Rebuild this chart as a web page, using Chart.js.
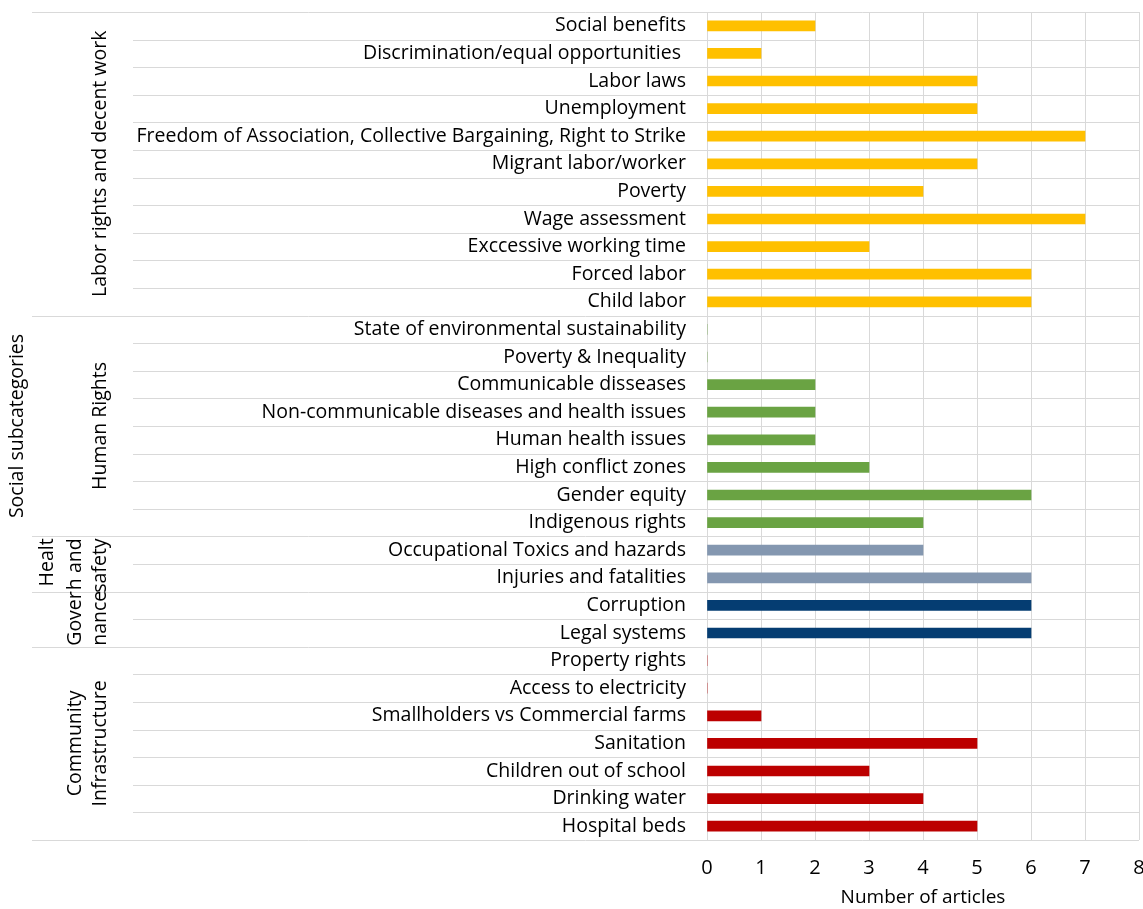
<!DOCTYPE html>
<html>
<head>
<meta charset="utf-8">
<script src="https://cdn.jsdelivr.net/npm/chart.js@4.4.0/dist/chart.umd.min.js"></script>
<style>
  html, body { margin: 0; padding: 0; background: #fff; }
  #wrap { width: 1143px; height: 909px; }
</style>
</head>
<body>
<div id="wrap"><canvas id="subcatChart" width="1143" height="909"></canvas></div>
<script>
// Categorias (de arriba hacia abajo) y numero de articulos
const categories = [
    'Social benefits', 'Discrimination/equal opportunities ', 'Labor laws', 'Unemployment',
    'Freedom of Association, Collective Bargaining, Right to Strike', 'Migrant labor/worker',
    'Poverty', 'Wage assessment', 'Exccessive working time', 'Forced labor', 'Child labor',
    'State of environmental sustainability', 'Poverty & Inequality', 'Communicable disseases',
    'Non-communicable diseases and health issues', 'Human health issues', 'High conflict zones',
    'Gender equity', 'Indigenous rights',
    'Occupational Toxics and hazards', 'Injuries and fatalities',
    'Corruption', 'Legal systems',
    'Property rights', 'Access to electricity', 'Smallholders vs Commercial farms', 'Sanitation',
    'Children out of school', 'Drinking water', 'Hospital beds'
];
const articles = [
    2, 1, 5, 5, 7, 5, 4, 7, 3, 6, 6,
    0, 0, 2, 2, 2, 3, 6, 4,
    4, 6,
    6, 6,
    0, 0, 1, 5, 3, 4, 5
];

// Grupos: cuantas categorias tiene cada uno y su color
const groupSizes = [11, 8, 2, 2, 7];
const groupColors = ['#FFC000', '#6AA343', '#8497B0', '#053D72', '#BC0000'];
// Etiquetas de grupo (cada linea rotada: texto, x, alineacion)
const groupLabels = [
    [['Labor rights and decent work', 100, 'center']],
    [['Human Rights', 100, 'center']],
    [['Healt', 47, 'right'], ['h and', 75, 'right'], ['safety', 100, 'right']],
    [['Gover', 75, 'left'], ['nance', 100, 'left']],
    [['Community', 75, 'center'], ['Infrastructure', 100, 'center']]
];
const xTicks = [0, 1, 2, 3, 4, 5, 6, 7, 8];

const FONT = '"Open Sans", sans-serif';
const GRID = '#d9d9d9';

const barColors = [];
groupSizes.forEach((n, g) => { for (let i = 0; i < n; i++) barColors.push(groupColors[g]); });

// Lineas horizontales que atraviesan la zona de etiquetas + titulos de grupo
const groupPlugin = {
    id: 'groupLines',
    beforeDatasetsDraw(chart) {
        const ctx = chart.ctx;
        const y = chart.scales.y;
        const right = chart.chartArea.right;
        const edges = [0];
        groupSizes.forEach(n => edges.push(edges[edges.length - 1] + n));
        ctx.save();
        ctx.strokeStyle = GRID;
        ctx.lineWidth = 1;
        for (let i = 0; i <= categories.length; i++) {
            const py = Math.round(y.getPixelForValue(i - 0.5)) + 0.5;
            const left = edges.includes(i) ? 32 : 133;
            ctx.beginPath();
            ctx.moveTo(left, py);
            ctx.lineTo(right, py);
            ctx.stroke();
        }
        ctx.restore();
    },
    afterDraw(chart) {
        const ctx = chart.ctx;
        const y = chart.scales.y;
        ctx.save();
        ctx.fillStyle = '#000';
        ctx.font = '19.5px ' + FONT;
        ctx.textBaseline = 'middle';
        let start = 0;
        groupSizes.forEach((n, g) => {
            const top = y.getPixelForValue(start - 0.5);
            const bottom = y.getPixelForValue(start + n - 0.5);
            groupLabels[g].forEach(([text, x, align]) => {
                ctx.save();
                let ty = (top + bottom) / 2;
                if (align === 'right') ty = top + 2;
                if (align === 'left') ty = bottom - 1;
                ctx.translate(x, ty);
                ctx.rotate(-Math.PI / 2);
                ctx.textAlign = align;
                ctx.fillText(text, 0, 0);
                ctx.restore();
            });
            start += n;
        });
        // titulo general del eje
        ctx.translate(17, (chart.chartArea.top + chart.chartArea.bottom) / 2);
        ctx.rotate(-Math.PI / 2);
        ctx.textAlign = 'center';
        ctx.fillText('Social subcategories', 0, 0);
        ctx.restore();
    }
};

new Chart(document.getElementById('subcatChart'), {
    type: 'bar',
    data: {
        labels: categories,
        datasets: [{
            data: articles,
            backgroundColor: barColors,
            barThickness: 10
        }]
    },
    options: {
        indexAxis: 'y',
        responsive: false,
        animation: false,
        layout: { padding: { top: 12, right: 4, left: 0, bottom: 0 } },
        plugins: { legend: { display: false }, tooltip: { enabled: false } },
        scales: {
            x: {
                min: 0,
                max: 8,
                afterBuildTicks: (scale) => { scale.ticks = xTicks.map(v => ({ value: v })); },
                afterFit: (scale) => {
                    scale.height = 69;
                    scale.paddingLeft = 0;
                    scale.paddingRight = 0;
                },
                grid: { color: GRID, drawTicks: false },
                border: { display: false },
                ticks: { color: '#000', padding: 16, font: { family: FONT, size: 20 } },
                title: {
                    display: true,
                    text: 'Number of articles',
                    color: '#000',
                    padding: { top: 2, bottom: 0 },
                    font: { family: FONT, size: 19 }
                }
            },
            y: {
                afterFit: (scale) => {
                    scale.width = 707;
                    scale.paddingTop = 0;
                    scale.paddingBottom = 0;
                },
                grid: { display: false, drawTicks: false },
                border: { display: false },
                ticks: { color: '#000', padding: 21, autoSkip: false, font: { family: FONT, size: 19.5 } }
            }
        }
    },
    plugins: [groupPlugin]
});
</script>
</body>
</html>
